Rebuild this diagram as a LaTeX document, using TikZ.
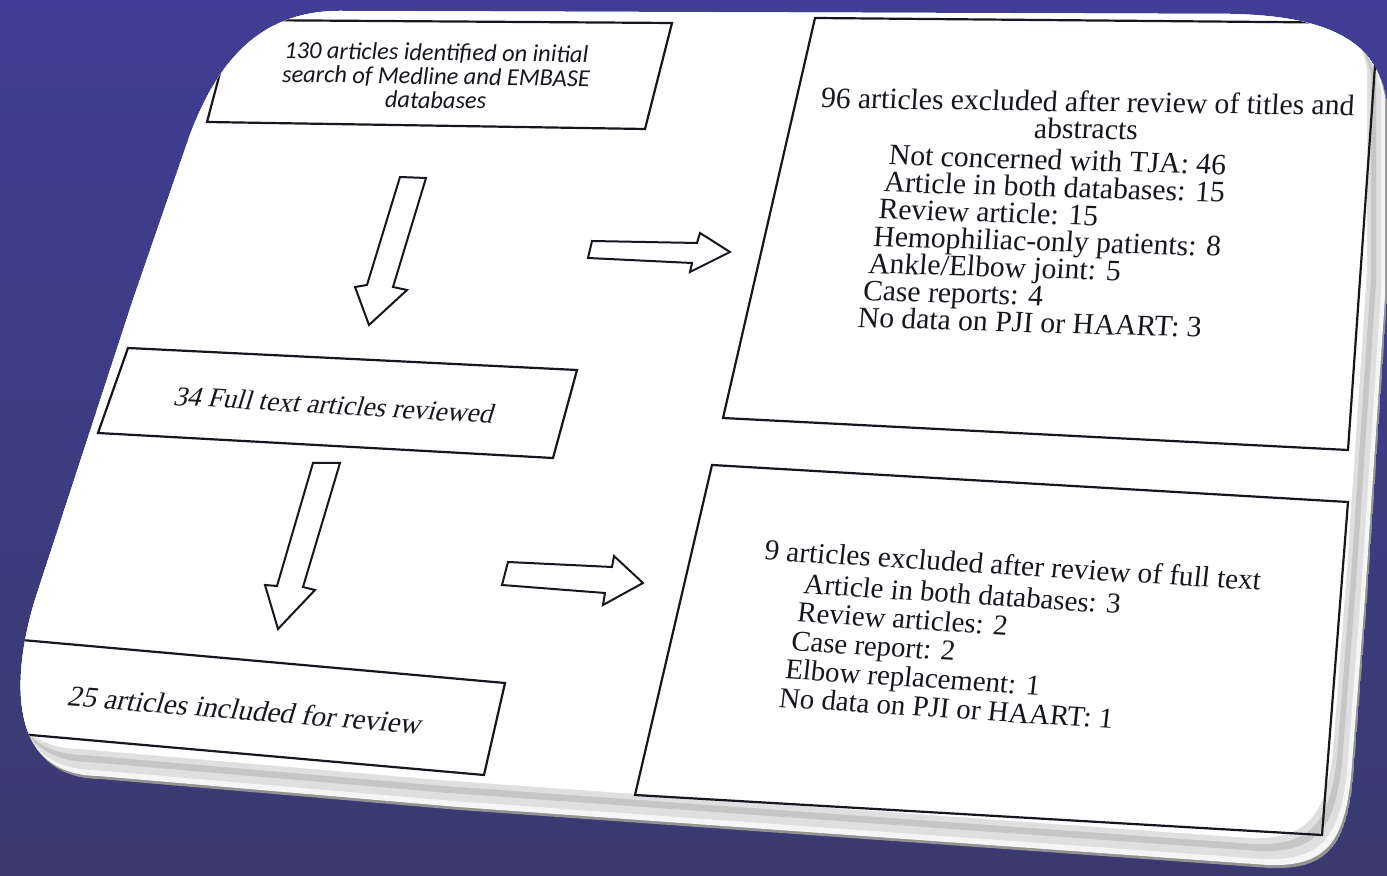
\documentclass[tikz,border=0pt]{standalone}
\usepackage{fontspec}
\setmainfont{Liberation Serif}
\newfontfamily\calibrifont{Carlito}

\definecolor{bgtop}{RGB}{63,62,148}
\definecolor{bgbot}{RGB}{58,58,112}
\definecolor{ink}{RGB}{22,22,30}

% outline of the white card
\newcommand{\cardoutline}{(340,11) -- (1230,14) .. controls (1330,16) and (1377,42) .. (1387,100)
  -- (1387,300) -- (1367,600) -- (1353,780) .. controls (1346,845) and (1328,870) .. (1270,868)
  -- (460,810) -- (100,779) .. controls (20,778) and (5,700) .. (35,600)
  -- (133,300) -- (190,135) .. controls (220,55) and (265,11) .. (340,11) -- cycle}

\begin{document}
\begin{tikzpicture}[
% first : the styles of the scheme
    x=0.5pt, y=-0.5pt,
    frame/.style={draw=ink, line width=1.1pt, line join=miter},
    fatarrow/.style={draw=ink, line width=1pt, fill=white, line join=miter},
    txt/.style={text=ink, inner sep=0pt},
    serif/.style={font=\fontsize{#1}{13.6}\selectfont},
    serif/.default=14.8
]

% background
\useasboundingbox (0,0) rectangle (1387,876);
\shade[top color=bgtop, bottom color=bgbot] (0,0) rectangle (1387,876);

\begin{scope}
\clip \cardoutline;
% card with its bevel
\fill[gray!85] \cardoutline;
\fill[white!92!gray, shift={(-2,-3)}] \cardoutline;
\fill[gray!25, shift={(-6,-9)}] \cardoutline;
\fill[gray!45, shift={(-11,-17)}] \cardoutline;
\fill[gray!25, shift={(-16,-24)}] \cardoutline;
\fill[white, shift={(-20,-30)}] \cardoutline;

% boxes
\draw[frame] (234,20) -- (672,23) -- (645,129) -- (207,122) -- cycle;
\draw[frame] (815,18) -- (1378,23) -- (1348,450) -- (723,418) -- cycle;
\draw[frame] (128,348) -- (577,370) -- (553,458) -- (98,433) -- cycle;
\draw[frame] (22,640) -- (505,683) -- (484,775) -- (8,733) -- cycle;
\draw[frame] (712,465) -- (1348,502) -- (1322,835) -- (635,795) -- cycle;

% arrows
\draw[fatarrow] (400,177) -- (426,178) -- (393,287) -- (407,290) -- (369,325) -- (355,287) -- (367,285) -- cycle;
\draw[fatarrow] (592,241) -- (697,243) -- (700,233) -- (730,252) -- (690,272) -- (692,263) -- (588,258) -- cycle;
\draw[fatarrow] (313,463) -- (340,463) -- (303,587) -- (315,590) -- (278,629) -- (265,585) -- (277,586) -- cycle;
\draw[fatarrow] (508,562) -- (612,567) -- (614,556) -- (643,583) -- (603,605) -- (605,593) -- (502,585) -- cycle;

% texts
\node[txt, align=center, rotate=-0.8, font=\calibrifont\itshape\fontsize{12.2}{12}\selectfont] (search) at (436,76)
  {130 articles identified on initial\\search of Medline and EMBASE\\databases};
\node[txt, serif, align=center, rotate=-0.8, xslant=0.05] (titlesout) at (1087,115)
  {96 articles excluded after review of titles and\\abstracts};
\node[txt, serif, align=left, rotate=-1.7, xslant=0.05] (titlesreasons) at (1043,241)
  {\hspace*{9pt}Not concerned with TJA: 46\\\hspace*{7.5pt}Article in both databases: 15\\\hspace*{6pt}Review article: 15\\
   \hspace*{4.5pt}Hemophiliac-only patients: 8\\\hspace*{3pt}Ankle/Elbow joint: 5\\\hspace*{1.5pt}Case reports: 4\\No data on PJI or HAART: 3};
\node[txt, serif=13.7, rotate=-3.3, xslant=0.25] (fulltext) at (335,405) {34 Full text articles reviewed};
\node[txt, serif=14.5, rotate=-4.6, xslant=0.22] (included) at (246,710) {25 articles included for review};
\node[txt, serif=14.6, rotate=-3.5, xslant=0.05] (fullout) at (1013,565) {9 articles excluded after review of full text};
\node[txt, align=left, rotate=-3.7, xslant=0.05, font=\fontsize{14.4}{14.4}\selectfont] (fullreasons) at (953,651)
  {\hspace*{5.6pt}Article in both databases: 3\\\hspace*{4.2pt}Review articles: 2\\\hspace*{2.8pt}Case report: 2\\
   \hspace*{1.4pt}Elbow replacement: 1\\No data on PJI or HAART: 1};
\end{scope}

\end{tikzpicture}
\end{document}
